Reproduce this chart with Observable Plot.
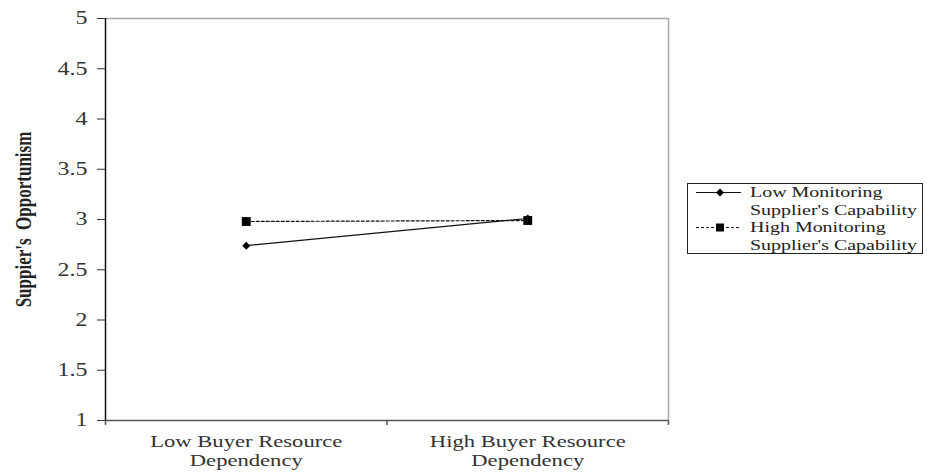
<!DOCTYPE html>
<html>
<head>
<meta charset="utf-8">
<script src="https://cdn.jsdelivr.net/npm/d3@7"></script>
<script src="https://cdn.jsdelivr.net/npm/@observablehq/plot@0.6"></script>
<style>
  html, body { margin: 0; padding: 0; background: #fff; }
  #wrap { position: relative; width: 927px; height: 473px; font-family: "Liberation Serif", "Times New Roman", serif; }
  #wrap svg text { font-family: "Liberation Serif", "Times New Roman", serif !important; }
  #legend { position: absolute; left: 687px; top: 183px; width: 236px; height: 71px; border: 1.3px solid #222; box-sizing: border-box; font-size: 15px; color: #222; line-height: 17.5px; }
  .lrow { display: flex; align-items: flex-start; }
  .lrow svg { flex: none; margin-left: 8px; }
  .lrow span { margin-left: 9px; display: inline-block; white-space: nowrap; transform: scaleX(1.33); transform-origin: left top; }
</style>
</head>
<body>
<div id="wrap"></div>
<script>
const categories = ["Low Buyer Resource\nDependency", "High Buyer Resource\nDependency"];
const seriesNames = ["Low Monitoring\nSupplier's Capability", "High Monitoring\nSupplier's Capability"];
const lowMonitoring = [2.74, 3.01];
const highMonitoring = [2.98, 2.99];
const yTicks = [1, 1.5, 2, 2.5, 3, 3.5, 4, 4.5, 5];
const yLabel = "Suppier's  Opportunism";

const pos = categories.map((c, i) => i + 0.5);
const lowData = categories.map((c, i) => ({x: pos[i], y: lowMonitoring[i]}));
const highData = categories.map((c, i) => ({x: pos[i], y: highMonitoring[i]}));
const catData = categories.map((c, i) => ({x: pos[i], label: c}));
const boundaries = d3.range(categories.length + 1);

const chart = Plot.plot({
  width: 927,
  height: 473,
  marginLeft: 105,
  marginRight: 259,
  marginTop: 18,
  marginBottom: 53,
  style: {fontFamily: "'Liberation Serif', 'Times New Roman', serif", background: "#fff"},
  x: {type: "linear", domain: [0, categories.length], axis: null},
  y: {type: "linear", domain: [1, 5], axis: null},
  marks: [
    // frame: top and right (gray)
    Plot.ruleY([5], {stroke: "#a6a6a6", strokeWidth: 1.5}),
    Plot.ruleX([categories.length], {stroke: "#a6a6a6", strokeWidth: 1.5}),
    // bottom axis
    Plot.ruleY([1], {stroke: "#555", strokeWidth: 1.5}),
    Plot.ruleX(boundaries, {x: d => d, y1: 1, y2: 1, insetBottom: -5, stroke: "#555", strokeWidth: 1.5}),
    // y axis
    Plot.ruleX([0], {stroke: "#111", strokeWidth: 1.5}),
    Plot.axisY({ticks: yTicks, tickFormat: d => String(d), tickSize: 8, tickPadding: 10, fontSize: 18, fill: "#333", stroke: "#333", label: null, className: "ytick"}),
    Plot.text([yLabel], {frameAnchor: "left", textAnchor: "middle", rotate: -90, dx: -82, fontSize: 17, fontWeight: "bold", fill: "#222", className: "ylabel"}),
    // category labels
    Plot.text(catData, {x: "x", y: 1, text: "label", lineAnchor: "top", dy: 13, fontSize: 17, fill: "#333", lineHeight: 1.13, className: "catlabel"}),
    // lines
    Plot.line(lowData, {x: "x", y: "y", stroke: "#111", strokeWidth: 1.2}),
    Plot.line(highData, {x: "x", y: "y", stroke: "#111", strokeWidth: 1.2, strokeDasharray: "3,2"}),
    Plot.dot(lowData, {x: "x", y: "y", symbol: "diamond2", r: 3.6, fill: "#000", stroke: "none"}),
    Plot.dot(highData, {x: "x", y: "y", symbol: "square", r: 5, fill: "#000", stroke: "none"})
  ]
});
const wrap = document.getElementById("wrap");
wrap.appendChild(chart);

// the reference's text is horizontally stretched (about 1.33x)
const SX = 1.33;
chart.querySelectorAll("g.ytick text, g.ylabel text, g.catlabel text").forEach(t => {
  const tr = t.getAttribute("transform");
  if (tr) {
    if (tr.includes("rotate")) t.setAttribute("transform", tr.replace("rotate", `scale(${SX},1) rotate`));
    else t.setAttribute("transform", tr + ` scale(${SX},1)`);
  } else {
    const x = +t.getAttribute("x") || 0, y = +t.getAttribute("y") || 0;
    t.removeAttribute("x"); t.removeAttribute("y");
    t.setAttribute("transform", `translate(${x},${y}) scale(${SX},1)`);
  }
});

// legend
const legend = document.createElement("div");
legend.id = "legend";
const swatches = [
  {dash: null, symbol: d3.symbolDiamond2, size: 40},
  {dash: "3,2", symbol: d3.symbolSquare, size: 64}
];
seriesNames.forEach((name, i) => {
  const row = document.createElement("div");
  row.className = "lrow";
  const sw = swatches[i];
  const svg = d3.create("svg").attr("width", 45).attr("height", 18);
  svg.append("line").attr("x1", 0).attr("x2", 45).attr("y1", 8.5).attr("y2", 8.5)
    .attr("stroke", "#111").attr("stroke-width", 1.2).attr("stroke-dasharray", sw.dash);
  svg.append("path").attr("d", d3.symbol(sw.symbol, sw.size)()).attr("transform", "translate(24,8.5)").attr("fill", "#000");
  row.appendChild(svg.node());
  const span = document.createElement("span");
  span.innerHTML = name.split("\n").join("<br>");
  row.appendChild(span);
  legend.appendChild(row);
});
wrap.appendChild(legend);
</script>
</body>
</html>
